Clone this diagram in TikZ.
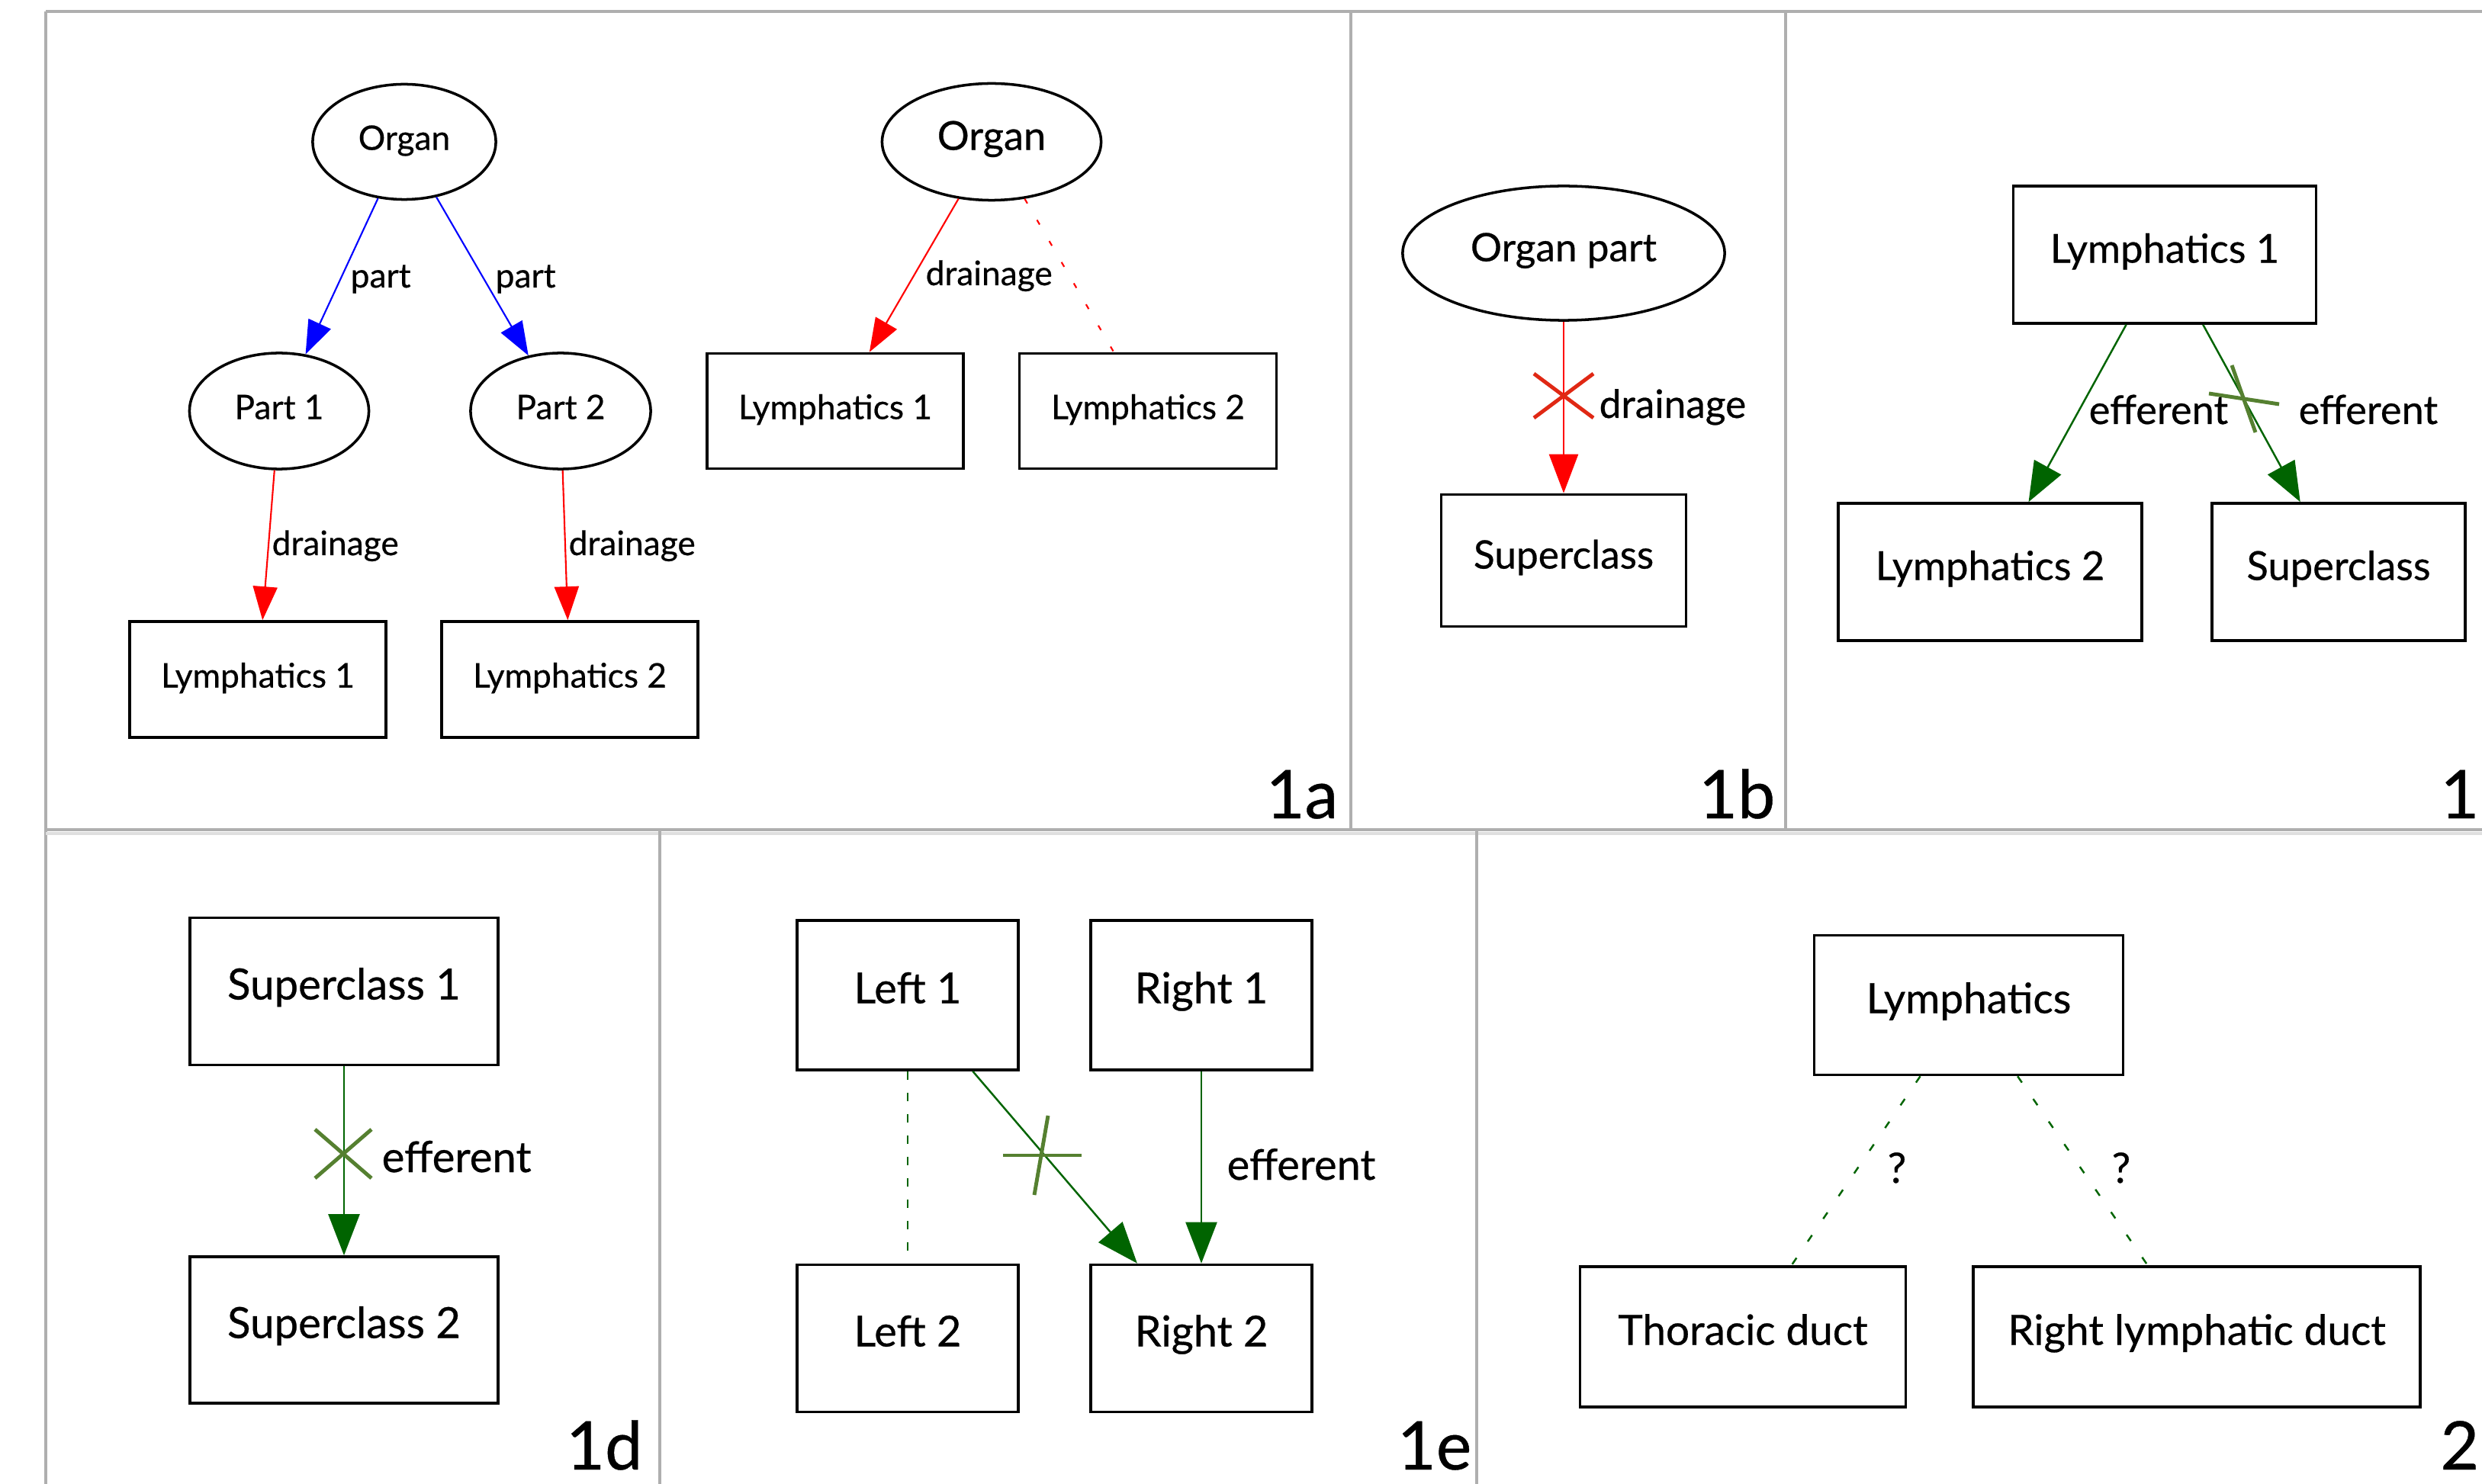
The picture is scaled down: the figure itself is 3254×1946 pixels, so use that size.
\documentclass[tikz,border=0pt]{standalone}
\usepackage{fontspec}
\setmainfont{Lato}[FakeBold=0.5]
\usetikzlibrary{shapes.geometric,arrows.meta,calc}
\definecolor{dkgreen}{RGB}{0,100,0}
\definecolor{markgreen}{RGB}{85,128,48}
\definecolor{markred}{RGB}{224,40,20}
\definecolor{panelgray}{RGB}{175,175,175}
\newcommand\fsA{\fontsize{12.6}{15}\selectfont}
\newcommand\fsAo{\fontsize{14.9}{18}\selectfont}
\newcommand\fsB{\fontsize{14.6}{18}\selectfont}
\newcommand\fsC{\fontsize{14.9}{18}\selectfont}
\newcommand\fsD{\fontsize{16}{19}\selectfont}
\newcommand\fsE{\fontsize{15.9}{19}\selectfont}
\newcommand\fsF{\fontsize{15.6}{19}\selectfont}
\newcommand\fsP{\fontsize{25}{30}\selectfont}
\begin{document}
\begin{tikzpicture}[x=0.01cm,y=-0.01cm,
  box/.style={draw,rectangle,line width=1pt,inner sep=0pt,text height=0.75em,text depth=0.15em},
  oval/.style={draw,ellipse,line width=1pt,inner sep=0pt,text height=0.75em,text depth=0.15em},
  lbl/.style={anchor=base west,inner sep=0pt},
  plabel/.style={inner sep=0pt,font=\fsP},
  panelline/.style={draw=panelgray,line width=0.9pt},
  edgeA/.style={line width=0.6pt,-{Triangle[length=0.44cm,width=0.32cm]}},
  edgeB/.style={line width=0.7pt,-{Triangle[length=0.51cm,width=0.38cm]}},
  edgeC/.style={line width=0.7pt,-{Triangle[length=0.52cm,width=0.40cm]}},
  edgeD/.style={line width=0.7pt,-{Triangle[length=0.54cm,width=0.41cm]}},
  xmark/.style={line width=1.4pt},
  dotA/.style={line width=0.6pt,dash pattern=on 0.07cm off 0.25cm},
  dotE/.style={line width=0.7pt,dash pattern=on 0.11cm off 0.17cm},
  dotF/.style={line width=0.7pt,dash pattern=on 0.10cm off 0.26cm}]
\fill[white] (0,0) rectangle (3254,1946);
\useasboundingbox (0,0) rectangle (3254,1946);
\clip (0,0) rectangle (3254,1946);

% panel borders
\draw[panelline] (60,15) -- (3254,15);
\draw[panelline] (60,15) -- (60,1946);
\draw[panelline] (1771,15) -- (1771,1088);
\draw[panelline] (2341,15) -- (2341,1088);
\draw[panelline] (60,1088) -- (3254,1088);
\draw[draw=panelgray!40,line width=0.9pt] (60,1093) -- (3254,1093);
\draw[panelline] (865,1088) -- (865,1946);
\draw[panelline] (1936,1088) -- (1936,1946);

% ---------- 1a (left graph)
\node[oval,minimum width=2.40cm,minimum height=1.51cm,font=\fsA] (aorg) at (530,186) {Organ};
\node[oval,minimum width=2.35cm,minimum height=1.52cm,font=\fsA] (apart1) at (366,539) {Part 1};
\node[oval,minimum width=2.36cm,minimum height=1.52cm,font=\fsA] (apart2) at (735,539) {Part 2};
\node[box,minimum width=3.36cm,minimum height=1.52cm,font=\fsA] (alym1) at (338,891) {Lymphatics 1};
\node[box,minimum width=3.36cm,minimum height=1.52cm,font=\fsA] (alym2) at (747,891) {Lymphatics 2};
\draw[edgeA,blue] (aorg) -- (apart1);
\draw[edgeA,blue] (aorg) -- (apart2);
\draw[edgeA,red] (apart1) -- (alym1);
\draw[edgeA,red] (apart2) -- (alym2);
\node[lbl,font=\fsA] (alp1) at (459,377) {part};
\node[lbl,font=\fsA] (alp2) at (649,377) {part};
\node[lbl,font=\fsA] (ald1) at (356,728) {drainage};
\node[lbl,font=\fsA] (ald2) at (745,728) {drainage};

% ---------- 1a (right graph)
\node[oval,minimum width=2.87cm,minimum height=1.53cm,font=\fsAo] (borg) at (1300,186) {Organ};
\node[box,minimum width=3.36cm,minimum height=1.51cm,font=\fsA] (blym1) at (1095,539) {Lymphatics 1};
\node[box,minimum width=3.37cm,minimum height=1.51cm,font=\fsA] (blym2) at (1505,539) {Lymphatics 2};
\draw[edgeA,red] (borg) -- (blym1);
\draw[dotA,red] (borg) -- (blym2);
\node[lbl,font=\fsA] (bld) at (1213,374) {drainage};
\node[plabel,anchor=base east] (pla) at (1755,1073) {1a};

% ---------- 1b
\node[oval,minimum width=4.22cm,minimum height=1.76cm,font=\fsB] (corg) at (2050,332) {Organ part};
\node[box,minimum width=3.21cm,minimum height=1.73cm,font=\fsB] (csup) at (2050,735) {Superclass};
\draw[edgeB,red] (corg) -- (csup);
\coordinate (cx) at (2050,519);
\draw[xmark,markred] ($(cx)+(-39,-29)$) -- ($(cx)+(39,29)$);
\draw[xmark,markred] ($(cx)+(-39,29)$) -- ($(cx)+(39,-29)$);
\node[lbl,font=\fsB] (cld) at (2096,548) {drainage};
\node[plabel,anchor=base east] (plb) at (2328,1073) {1b};

% ---------- 1c
\node[box,minimum width=3.97cm,minimum height=1.80cm,font=\fsC] (dlym1) at (2838,334) {Lymphatics 1};
\node[box,minimum width=3.98cm,minimum height=1.80cm,font=\fsC] (dlym2) at (2609,750) {Lymphatics 2};
\node[box,minimum width=3.32cm,minimum height=1.80cm,font=\fsC] (dsup) at (3066,750) {Superclass};
\draw[edgeC,dkgreen] (dlym1) -- (dlym2);
\draw[edgeC,dkgreen] (dlym1) -- (dsup);
\draw[xmark,markgreen] (2926,479) -- (2957,567);
\draw[xmark,markgreen] (2896,516) -- (2988,530);
\node[lbl,font=\fsC] (dle1) at (2738,556) {efferent};
\node[lbl,font=\fsC] (dle2) at (3013,556) {efferent};
\node[plabel,anchor=base east] (plc) at (3251,1073) {1};

% ---------- 1d
\node[box,minimum width=4.04cm,minimum height=1.93cm,font=\fsD] (esup1) at (451,1300) {Superclass 1};
\node[box,minimum width=4.04cm,minimum height=1.92cm,font=\fsD] (esup2) at (451,1744) {Superclass 2};
\draw[edgeD,dkgreen] (esup1) -- (esup2);
\coordinate (ex) at (450,1513);
\draw[xmark,markgreen] ($(ex)+(-37,-32)$) -- ($(ex)+(37,32)$);
\draw[xmark,markgreen] ($(ex)+(-37,32)$) -- ($(ex)+(37,-32)$);
\node[lbl,font=\fsD] (ele) at (500,1537) {efferent};
\node[plabel,anchor=base east] (pld) at (843,1927) {1d};

% ---------- 1e
\node[box,minimum width=2.90cm,minimum height=1.96cm,font=\fsE] (fl1) at (1190,1305) {Left 1};
\node[box,minimum width=2.90cm,minimum height=1.96cm,font=\fsE] (fr1) at (1575,1305) {Right 1};
\node[box,minimum width=2.90cm,minimum height=1.93cm,font=\fsE] (fl2) at (1190,1755) {Left 2};
\node[box,minimum width=2.90cm,minimum height=1.93cm,font=\fsE] (fr2) at (1575,1755) {Right 2};
\draw[dotE,dkgreen] (fl1) -- (fl2);
\draw[edgeD,dkgreen] (fl1) -- (fr2);
\draw[edgeD,dkgreen] (fr1) -- (fr2);
\draw[xmark,markgreen] (1315,1515) -- (1418,1515);
\draw[xmark,markgreen] (1374,1463) -- (1356,1567);
\node[lbl,font=\fsE] (fle) at (1608,1547) {efferent};
\node[plabel,anchor=base east] (ple) at (1930,1927) {1e};

% ---------- 2
\node[box,minimum width=4.05cm,minimum height=1.83cm,font=\fsF] (glym) at (2581,1318) {Lymphatics};
\node[box,minimum width=4.27cm,minimum height=1.84cm,font=\fsF] (gthor) at (2285,1753) {Thoracic duct};
\node[box,minimum width=5.86cm,minimum height=1.84cm,font=\fsF] (grld) at (2880,1753) {Right lymphatic duct};
\draw[dotF,dkgreen] (glym) -- (gthor);
\draw[dotF,dkgreen] (glym) -- (grld);
\node[lbl,font=\fsF] (gq1) at (2474,1551) {?};
\node[lbl,font=\fsF] (gq2) at (2768,1551) {?};
\node[plabel,anchor=base east] (plf) at (3251,1927) {2};
\end{tikzpicture}
\end{document}
